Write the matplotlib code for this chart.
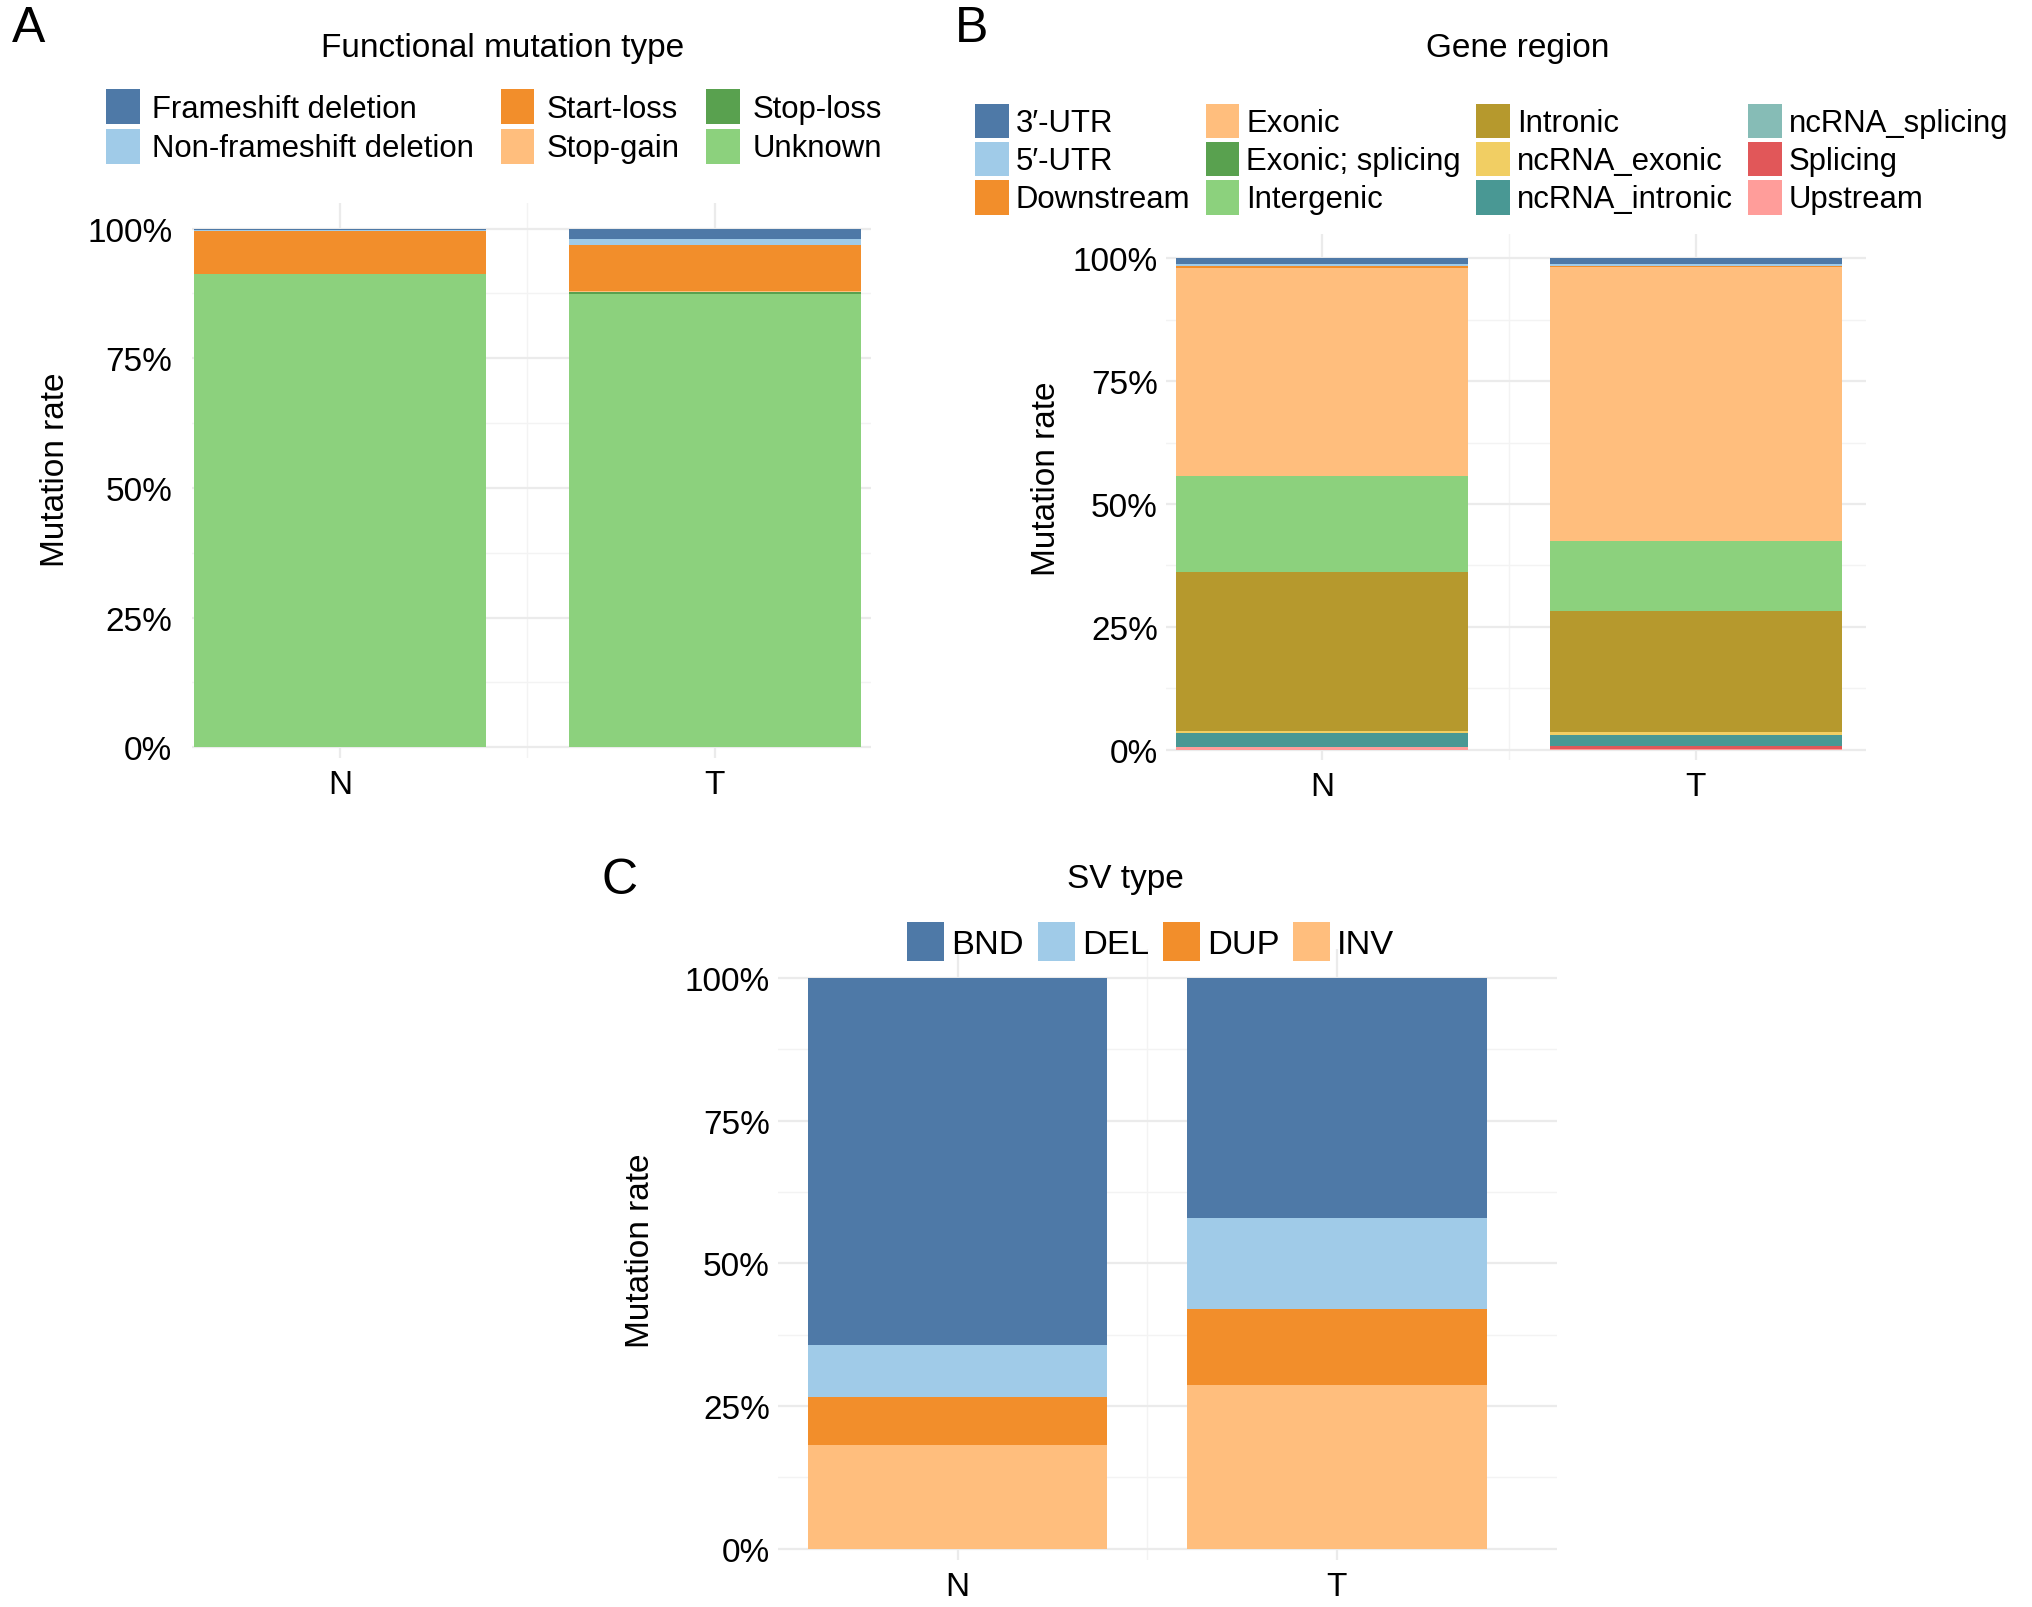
import matplotlib
matplotlib.use("Agg")
import matplotlib.pyplot as plt
from matplotlib.patches import Patch
from matplotlib.ticker import FixedLocator, PercentFormatter

plt.rcParams['font.family'] = ['Liberation Sans', 'DejaVu Sans']

groups = ["N", "T"]

# A: functional mutation type (percent of mutations)
func_types = ["Frameshift deletion", "Non-frameshift deletion", "Start-loss",
              "Stop-gain", "Stop-loss", "Unknown"]
func_N = [0.3, 0.2, 8.2, 0.0, 0.0, 91.3]
func_T = [2.1, 1.0, 8.9, 0.3, 0.4, 87.3]
func_colors = ["#4E79A7", "#A0CBE8", "#F28E2B", "#FFBE7D", "#59A14F", "#8CD17D"]

# B: gene region
regions = ["3\u2032-UTR", "5\u2032-UTR", "Downstream", "Exonic", "Exonic; splicing",
           "Intergenic", "Intronic", "ncRNA_exonic", "ncRNA_intronic",
           "ncRNA_splicing", "Splicing", "Upstream"]
region_N = [1.2, 0.4, 0.3, 42.35, 0.0, 19.6, 32.3, 0.5, 2.7, 0.05, 0.1, 0.5]
region_T = [1.1, 0.4, 0.3, 55.7, 0.1, 14.2, 24.5, 0.7, 2.2, 0.05, 0.6, 0.15]
region_colors = ["#4E79A7", "#A0CBE8", "#F28E2B", "#FFBE7D", "#59A14F", "#8CD17D",
                 "#B6992D", "#F1CE63", "#499894", "#86BCB6", "#E15759", "#FF9D9A"]

# C: SV type
sv_types = ["BND", "DEL", "DUP", "INV"]
sv_N = [64.3, 9.1, 8.4, 18.2]
sv_T = [42.0, 16.0, 13.4, 28.6]
sv_colors = ["#4E79A7", "#A0CBE8", "#F28E2B", "#FFBE7D"]

fig = plt.figure(figsize=(10.16, 8.04), dpi=200)

def stacked(ax, labels, valsN, valsT, colors, width, xlim, ypad=3):
    # first level on top, like ggplot position="fill"
    x = [0, 1]
    bottom = [0.0, 0.0]
    for i in range(len(labels) - 1, -1, -1):
        h = [valsN[i] / 100, valsT[i] / 100]
        ax.bar(x, h, width=width, bottom=bottom, color=colors[i], linewidth=0, zorder=2)
        bottom = [bottom[0] + h[0], bottom[1] + h[1]]
    ax.set_xlim(*xlim)
    ax.set_ylim(-0.02, 1.05)
    ax.set_xticks(x)
    ax.set_xticklabels(groups)
    ax.xaxis.set_minor_locator(FixedLocator([0.5]))
    ax.set_yticks([0, 0.25, 0.5, 0.75, 1.0])
    ax.yaxis.set_minor_locator(FixedLocator([0.125, 0.375, 0.625, 0.875]))
    ax.yaxis.set_major_formatter(PercentFormatter(1.0, decimals=0))
    ax.grid(which='major', color='#EBEBEB', lw=0.8, zorder=0)
    ax.grid(which='minor', color='#F3F3F3', lw=0.5, zorder=0)
    ax.tick_params(which='both', length=0, labelsize=12, colors='black')
    ax.tick_params(axis='x', pad=4)
    ax.tick_params(axis='y', pad=ypad)
    for s in ax.spines.values():
        s.set_visible(False)

def legend(labels, colors, ncol, x, y, textpad, colspace, size=11.2, rowspace=0.15):
    handles = [Patch(facecolor=c, edgecolor='none') for c in colors]
    fig.legend(handles, labels, ncol=ncol, loc='upper left', bbox_to_anchor=(x, y),
               frameon=False, fontsize=size, handlelength=1.08, handleheight=1.35,
               handletextpad=textpad, labelspacing=rowspace, columnspacing=colspace,
               borderpad=0, borderaxespad=0)

axA = fig.add_axes([0.0944, 0.5282, 0.3342, 0.3452])
stacked(axA, func_types, func_N, func_T, func_colors, 0.78, (-0.396, 1.417), ypad=7)
axB = fig.add_axes([0.574, 0.527, 0.3444, 0.327])
stacked(axB, regions, region_N, region_T, region_colors, 0.78, (-0.416, 1.456))
axC = fig.add_axes([0.383, 0.0292, 0.3833, 0.3797])
stacked(axC, sv_types, sv_N, sv_T, sv_colors, 0.79, (-0.473, 1.581))

legend(func_types, func_colors, 3, 0.0523, 0.944, 0.4, 0.85)
legend(regions, region_colors, 4, 0.480, 0.935, 0.22, 0.5, rowspace=0.1)
legend(sv_types, sv_colors, 4, 0.4464, 0.426, 0.2, 0.4, size=12.4)

fig.text(0.2474, 0.970, "Functional mutation type", ha='center', va='center', fontsize=12)
fig.text(0.747, 0.970, "Gene region", ha='center', va='center', fontsize=12)
fig.text(0.554, 0.453, "SV type", ha='center', va='center', fontsize=12)

fig.text(0.0275, 0.708, "Mutation rate", rotation=90, ha='center', va='center', fontsize=12)
fig.text(0.515, 0.702, "Mutation rate", rotation=90, ha='center', va='center', fontsize=12)
fig.text(0.315, 0.222, "Mutation rate", rotation=90, ha='center', va='center', fontsize=12)

fig.text(0.014, 0.982, "A", ha='center', va='center', fontsize=18)
fig.text(0.478, 0.982, "B", ha='center', va='center', fontsize=18)
fig.text(0.305, 0.452, "C", ha='center', va='center', fontsize=18)

fig.savefig("out.png", dpi=200)
